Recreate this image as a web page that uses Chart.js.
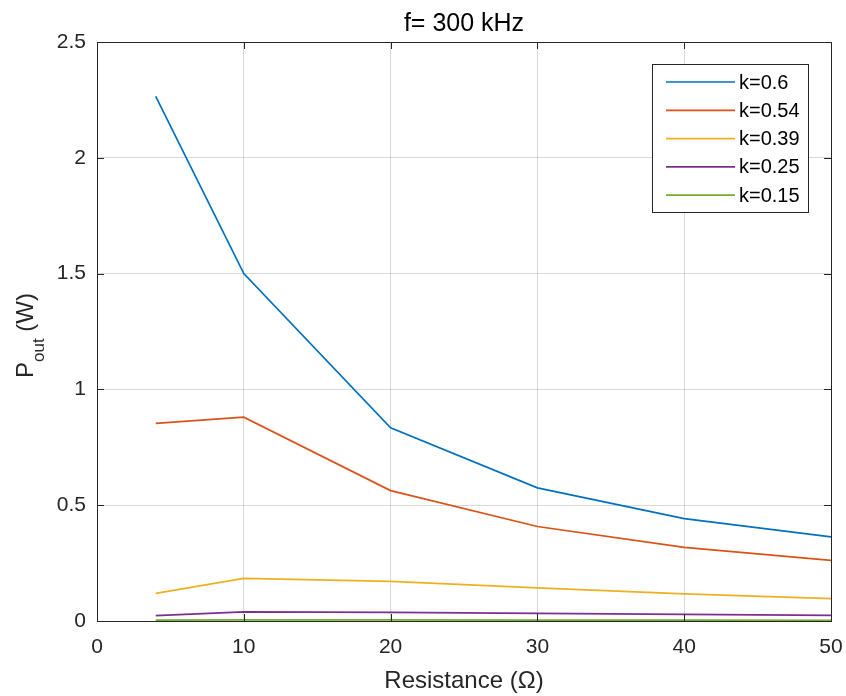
<!DOCTYPE html>
<html>
<head>
  <meta charset="UTF-8">
  <script src="https://cdn.jsdelivr.net/npm/chart.js@4"></script>
  <title>Pout vs Resistance</title>
  <style>
    body { margin: 0; background: #fff; }
  </style>
</head>
<body>
  <canvas id="myChart" width="846" height="696"></canvas>
  <script>
  // data
  const resistance = [4, 10, 20, 30, 40, 50];
  const k06  = [2.265, 1.50, 0.834, 0.575, 0.442, 0.363];
  const k054 = [0.853, 0.880, 0.563, 0.408, 0.318, 0.262];
  const k039 = [0.119, 0.184, 0.171, 0.143, 0.117, 0.097];
  const k025 = [0.023, 0.039, 0.037, 0.033, 0.029, 0.024];
  const k015 = [0.004, 0.005, 0.005, 0.004, 0.004, 0.003];
  const seriesLabels = ['k=0.6', 'k=0.54', 'k=0.39', 'k=0.25', 'k=0.15'];
  const seriesColors = ['#0072BD', '#D95319', '#EDB120', '#7E2F8E', '#77AC30'];
  const xTicks = [0, 10, 20, 30, 40, 50];
  const yTicks = [0, 0.5, 1, 1.5, 2, 2.5];

  const FONT = "'Liberation Sans', Arial, Helvetica, sans-serif";
  const AXIS = '#262626';

  function pts(ys) {
    return resistance.map((x, i) => ({ x: x, y: ys[i] }));
  }
  const allSeries = [k06, k054, k039, k025, k015];

  // matlab style box, inward ticks, y label with subscript, legend
  const matlabAxes = {
    id: 'matlabAxes',
    afterDatasetsDraw(chart) {
      const ctx = chart.ctx;
      const a = chart.chartArea;
      const xs = chart.scales.x, ys = chart.scales.y;
      ctx.save();
      ctx.strokeStyle = AXIS;
      ctx.lineWidth = 1;
      ctx.strokeRect(Math.round(a.left) + 0.5, Math.round(a.top) + 0.5,
                     Math.round(a.right - a.left), Math.round(a.bottom - a.top));
      const tl = 7;
      ctx.beginPath();
      xTicks.forEach(v => {
        const px = Math.round(xs.getPixelForValue(v)) + 0.5;
        ctx.moveTo(px, a.bottom); ctx.lineTo(px, a.bottom - tl);
        ctx.moveTo(px, a.top); ctx.lineTo(px, a.top + tl);
      });
      yTicks.forEach(v => {
        const py = Math.round(ys.getPixelForValue(v)) + 0.5;
        ctx.moveTo(a.left, py); ctx.lineTo(a.left + tl, py);
        ctx.moveTo(a.right, py); ctx.lineTo(a.right - tl, py);
      });
      ctx.stroke();

      // y axis title: P_out (W)
      const F = 24, SF = 17;
      ctx.translate(33, (a.top + a.bottom) / 2 + 4);
      ctx.rotate(-Math.PI / 2);
      ctx.fillStyle = AXIS;
      ctx.textBaseline = 'alphabetic';
      ctx.font = F + 'px ' + FONT;
      const wP = ctx.measureText('P').width;
      const wW = ctx.measureText(' (W)').width;
      ctx.font = SF + 'px ' + FONT;
      const wSub = ctx.measureText('out').width;
      let x0 = -(wP + wSub + wW) / 2;
      ctx.font = F + 'px ' + FONT;
      ctx.fillText('P', x0, 0);
      ctx.font = SF + 'px ' + FONT;
      ctx.fillText('out', x0 + wP, 11);
      ctx.font = F + 'px ' + FONT;
      ctx.fillText(' (W)', x0 + wP + wSub, 0);
      ctx.restore();

      // legend
      ctx.save();
      const lx = a.right - 179, ly = a.top + 22, lw = 156, lh = 148;
      ctx.fillStyle = '#fff';
      ctx.fillRect(lx, ly, lw, lh);
      ctx.strokeStyle = AXIS;
      ctx.lineWidth = 1;
      ctx.strokeRect(Math.round(lx) + 0.5, Math.round(ly) + 0.5, lw, lh);
      ctx.font = '20px ' + FONT;
      ctx.textBaseline = 'middle';
      chart.data.datasets.forEach((ds, i) => {
        const cy = ly + 18 + i * 28.3;
        ctx.strokeStyle = ds.borderColor;
        ctx.lineWidth = 1.7;
        ctx.beginPath();
        ctx.moveTo(lx + 14, cy); ctx.lineTo(lx + 83, cy);
        ctx.stroke();
        ctx.fillStyle = '#000';
        ctx.fillText(ds.label, lx + 87, cy + 1);
      });
      ctx.restore();
    }
  };

  const ctx = document.getElementById('myChart').getContext('2d');
  const myChart = new Chart(ctx, {
    type: 'line',
    data: {
      datasets: allSeries.map((s, i) => ({
        label: seriesLabels[i],
        data: pts(s),
        borderColor: seriesColors[i],
        backgroundColor: seriesColors[i],
        borderWidth: 1.7,
        pointRadius: 0,
        fill: false,
        tension: 0
      }))
    },
    options: {
      responsive: false,
      animation: false,
      layout: { padding: { left: 0, right: 15, top: 0, bottom: 0 } },
      plugins: {
        legend: { display: false },
        tooltip: { enabled: false },
        title: {
          display: true,
          fullSize: false,
          text: 'f= 300 kHz',
          color: '#000',
          font: { family: FONT, size: 25, weight: 'normal' },
          padding: { top: 9, bottom: 3 }
        }
      },
      scales: {
        x: {
          type: 'linear',
          min: 0, max: 50,
          afterBuildTicks: s => { s.ticks = xTicks.map(v => ({ value: v })); },
          afterFit: s => { s.height = 75; s.paddingLeft = 0; s.paddingRight = 0; },
          grid: { color: 'rgba(0,0,0,0.15)', drawTicks: false },
          border: { display: false },
          ticks: { color: AXIS, padding: 14, font: { family: FONT, size: 21 } },
          title: {
            display: true,
            text: 'Resistance (Ω)',
            color: AXIS,
            font: { family: FONT, size: 24 },
            padding: { top: 17, bottom: 0 }
          }
        },
        y: {
          min: 0, max: 2.5,
          afterBuildTicks: s => { s.ticks = yTicks.map(v => ({ value: v })); },
          afterFit: s => { s.width = 97; s.paddingTop = 0; s.paddingBottom = 0; },
          grid: { color: 'rgba(0,0,0,0.15)', drawTicks: false },
          border: { display: false },
          ticks: {
            color: AXIS, padding: 11, font: { family: FONT, size: 21 },
            callback: v => String(v)
          }
        }
      }
    },
    plugins: [matlabAxes]
  });
  </script>
</body>
</html>
